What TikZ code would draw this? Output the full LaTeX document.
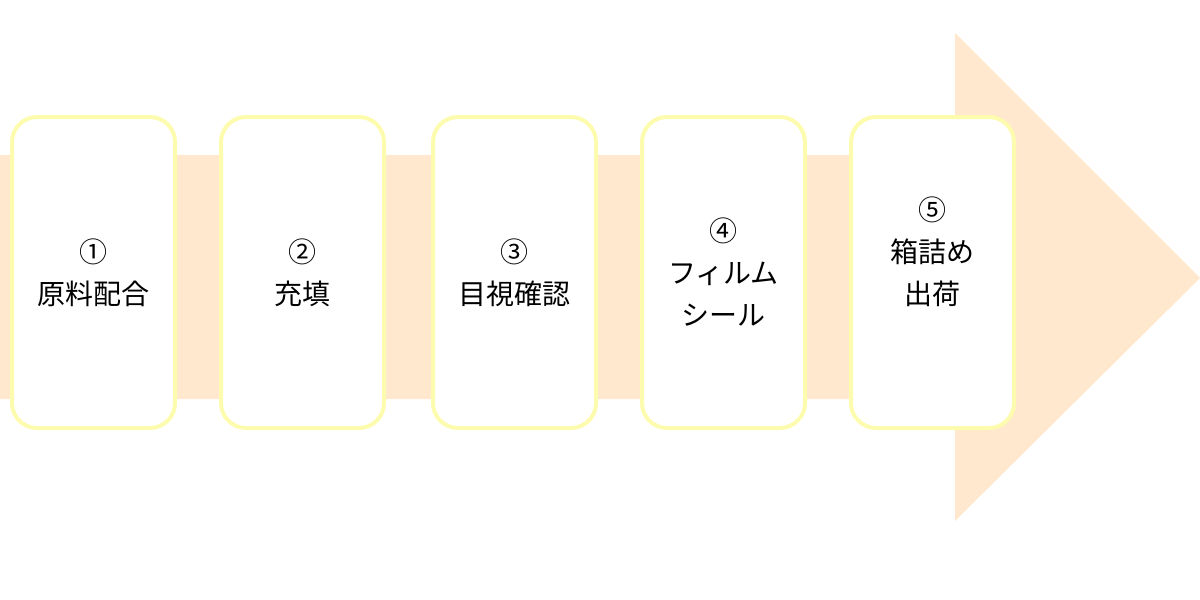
\documentclass[tikz,border=0pt]{standalone}
\usepackage{fontspec}
\setmainfont{Noto Sans CJK JP}
\usetikzlibrary{positioning}
\definecolor{flowpeach}{HTML}{FFE8CD}
\definecolor{boxyellow}{HTML}{FDFCAE}

\begin{document}
\begin{tikzpicture}[x=1pt, y=-1pt,
		stage/.style={draw=boxyellow, line width=4pt, fill=white, rounded corners=25pt,
			minimum width=163pt, minimum height=311pt, align=center,
			font=\fontsize{28}{42}\selectfont}]
				\useasboundingbox (0,0) rectangle (1200,600);
				% big arrow behind the stages
				\fill[flowpeach] (0,155) -- (955,155) -- (955,33) -- (1200,278)
				-- (955,521) -- (955,399) -- (0,399) -- cycle;
				\node[stage] (mix) at (93.5,272.5) {①\\原料配合};
				\node[stage] (fill) at (302.5,272.5) {②\\充填};
				\node[stage] (check) at (514.5,272.5) {③\\目視確認};
				\node[stage] (seal) at (723.5,272.5) {④\\フィルム\\シール};
				\node[stage] (ship) at (932.5,272.5) {⑤\\箱詰め\\出荷\\[-10pt]\strut};
			\end{tikzpicture}
\end{document}
